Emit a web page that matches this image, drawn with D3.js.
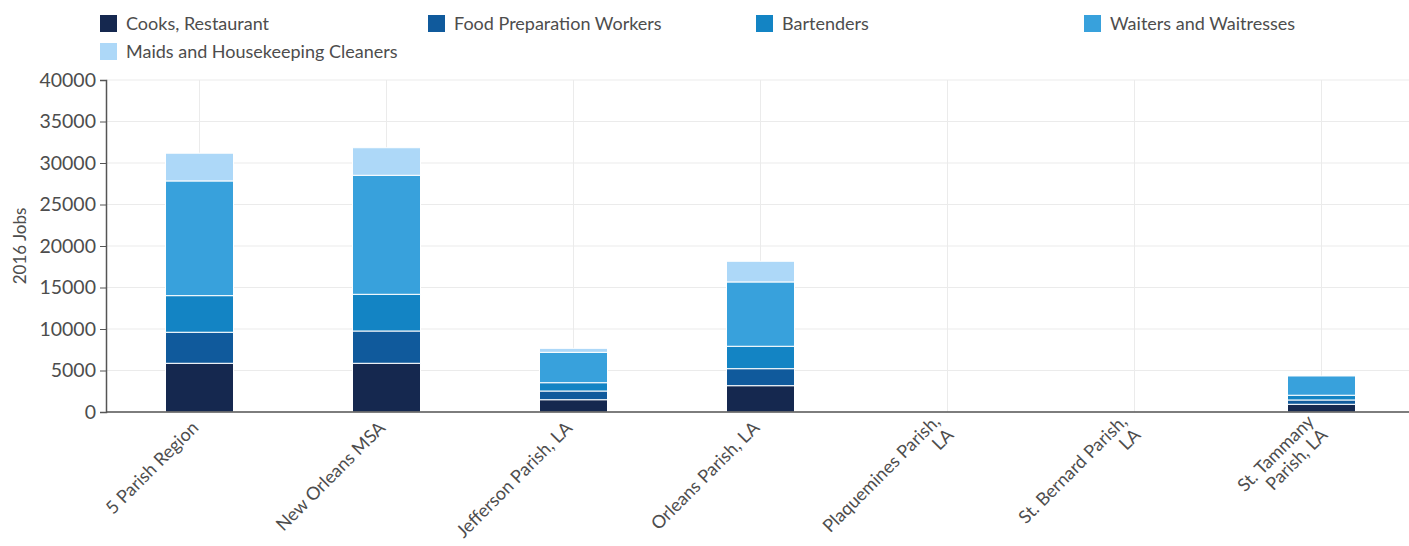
<!DOCTYPE html>
<html><head><meta charset="utf-8">
<script src="https://cdn.jsdelivr.net/npm/d3@7"></script>
<style>
body{margin:0;background:#fff;}
text{font-family:Lato, "Open Sans", sans-serif;}
</style></head>
<body><svg id="c" width="1409" height="546"></svg>
<script>
const categories = ["5 Parish Region","New Orleans MSA","Jefferson Parish, LA","Orleans Parish, LA","Plaquemines Parish, LA","St. Bernard Parish, LA","St. Tammany Parish, LA"];
const categoryLines = [["5 Parish Region"],["New Orleans MSA"],["Jefferson Parish, LA"],["Orleans Parish, LA"],["Plaquemines Parish,","LA"],["St. Bernard Parish,","LA"],["St. Tammany","Parish, LA"]];
const seriesNames = ["Cooks, Restaurant","Food Preparation Workers","Bartenders","Waiters and Waitresses","Maids and Housekeeping Cleaners"];
const cooks = [5870, 5870, 1480, 3170, 0, 0, 930];
const foodPrep = [3740, 3890, 1050, 2050, 0, 0, 520];
const bartenders = [4410, 4420, 1000, 2700, 0, 0, 570];
const waiters = [13820, 14340, 3660, 7750, 0, 0, 2320];
const maids = [3340, 3320, 480, 2490, 0, 0, 0];
const yTicks = [0,5000,10000,15000,20000,25000,30000,35000,40000];
const colors = ["#15284f","#105a9c","#1384c4","#38a1dc","#add8f8"];

const seriesValues = [cooks, foodPrep, bartenders, waiters, maids];
const rows = categories.map((c,i)=>{const r={cat:c}; seriesNames.forEach((s,j)=>r[s]=seriesValues[j][i]); return r;});
const stacked = d3.stack().keys(seriesNames)(rows);

const svg = d3.select("#c");
const pL=106, pR=1415, pT=80, pB=412;
const x = d3.scaleBand().domain(categories).range([pL,pR]).padding(0);
const y = d3.scaleLinear().domain([0,40000]).range([pB,pT]);
const barW = 68;
const txt = "#4d4d4d";

// gridlines
svg.append("g").selectAll("line").data(yTicks).join("line")
  .attr("x1",pL).attr("x2",pR).attr("y1",d=>y(d)).attr("y2",d=>y(d))
  .attr("stroke","#ebebeb").attr("stroke-width",1);
svg.append("g").selectAll("line").data(categories).join("line")
  .attr("x1",d=>x(d)+x.bandwidth()/2).attr("x2",d=>x(d)+x.bandwidth()/2)
  .attr("y1",pT).attr("y2",pB)
  .attr("stroke","#ebebeb").attr("stroke-width",1);

// bars
svg.append("g").selectAll("g").data(stacked).join("g")
  .attr("fill",(d,i)=>colors[i])
  .selectAll("rect").data(d=>d).join("rect")
  .attr("x",d=>x(d.data.cat)+x.bandwidth()/2-barW/2)
  .attr("width",barW)
  .attr("y",d=>y(d[1]))
  .attr("height",d=>Math.max(0,y(d[0])-y(d[1])))
  .attr("stroke","#ffffff").attr("stroke-width",d=>(d[1]-d[0])>0?1:0);

// y axis
const ya = svg.append("g").attr("transform",`translate(${pL},0)`)
  .call(d3.axisLeft(y).tickValues(yTicks).tickSize(6).tickPadding(4).tickFormat(d3.format("d")));
ya.select(".domain").attr("stroke","#555").attr("stroke-width",1.5);
ya.selectAll(".tick line").attr("stroke","#555");
ya.selectAll(".tick text").attr("fill",txt).style("font-size","19.5px").style("font-family","Lato");

// x axis line
svg.append("line").attr("x1",pL).attr("x2",pR).attr("y1",pB).attr("y2",pB)
  .attr("stroke","#555").attr("stroke-width",1.5);

// x labels
const xl = svg.append("g");
categories.forEach((c,i)=>{
  const cx = x(c)+x.bandwidth()/2;
  const lines = categoryLines[i];
  const t = xl.append("text")
    .attr("transform",`translate(${cx},${pB+17}) rotate(-45)`)
    .attr("text-anchor","end").attr("fill",txt).style("font-size","18px");
  lines.forEach((ln,k)=>{
    t.append("tspan").attr("x",0).attr("y",(k-(lines.length-1))*19+(lines.length>1?10:0)).text(ln);
  });
});

// y title
svg.append("text").attr("transform","translate(26,246) rotate(-90)")
  .attr("text-anchor","middle").attr("fill",txt).style("font-size","17px").text("2016 Jobs");

// legend
const legPos = [[100,23],[428,23],[756,23],[1084,23],[100,51]];
const lg = svg.append("g");
seriesNames.forEach((s,i)=>{
  const [lx,ly]=legPos[i];
  lg.append("rect").attr("x",lx).attr("y",ly-8).attr("width",17).attr("height",17).attr("fill",colors[i]);
  lg.append("text").attr("x",lx+26).attr("y",ly+6.5).attr("fill",txt).style("font-size","18px").text(s);
});
</script></body></html>
